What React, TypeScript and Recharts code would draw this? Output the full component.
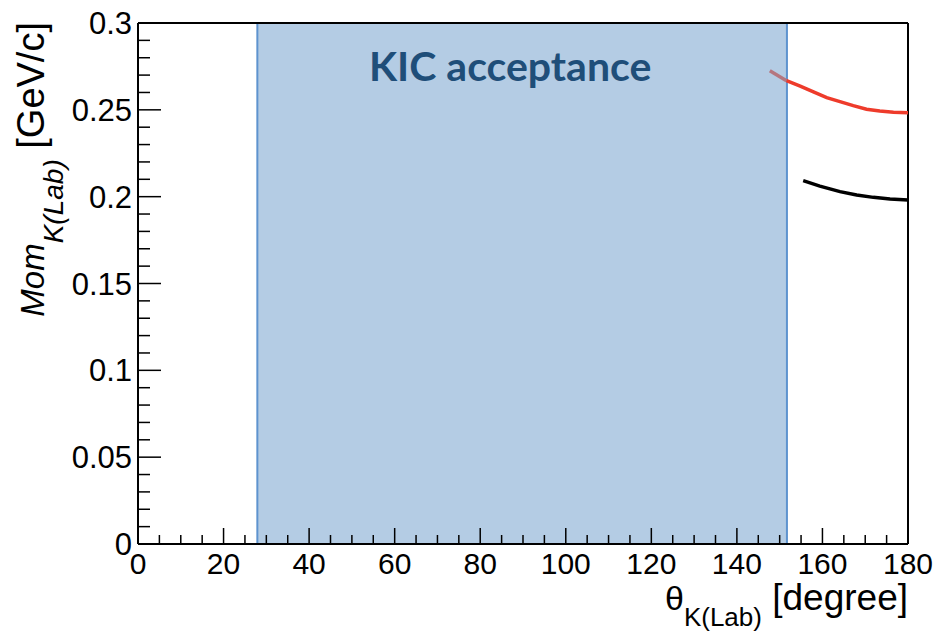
import { LineChart, Line, XAxis, YAxis, ReferenceArea, ReferenceLine, Label } from "recharts";

// theta (deg) tick positions, majors every 20
const xTicks = [
  0, 5, 10, 15, 20, 25, 30, 35, 40, 45, 50, 55, 60, 65, 70, 75, 80, 85, 90,
  95, 100, 105, 110, 115, 120, 125, 130, 135, 140, 145, 150, 155, 160, 165,
  170, 175, 180,
];
// momentum tick positions, majors every 0.05
const yTicks = [
  0, 0.01, 0.02, 0.03, 0.04, 0.05, 0.06, 0.07, 0.08, 0.09, 0.1, 0.11, 0.12,
  0.13, 0.14, 0.15, 0.16, 0.17, 0.18, 0.19, 0.2, 0.21, 0.22, 0.23, 0.24, 0.25,
  0.26, 0.27, 0.28, 0.29, 0.3,
];

// KIC acceptance window (deg)
const kicFrom = 27.9;
const kicTo = 151.7;

// red curve, the bit under the acceptance box
const redInAngle = [147.7, 151.6];
const redInMom = [0.2725, 0.2668];
// red curve outside the box
const redAngle = [151.6, 154.8, 157.9, 161.0, 164.1, 167.2, 170.3, 173.4, 176.6, 180];
const redMom = [0.2668, 0.2637, 0.2604, 0.257, 0.2547, 0.2524, 0.2503, 0.2493, 0.2486, 0.2483];
// black curve
const blackAngle = [155.5, 159.4, 164.1, 168.0, 171.9, 175.8, 180];
const blackMom = [0.2092, 0.2061, 0.2029, 0.201, 0.1996, 0.1987, 0.1981];

const zip = (a: number[], m: number[]) => a.map((angle, i) => ({ angle, mom: m[i] }));

const FONT = "'Liberation Sans', Arial, sans-serif";

const XTick = (props: any) => {
  const { x, y, payload } = props;
  const v = payload.value;
  const major = v % 20 === 0;
  return (
    <g>
      <line x1={x} y1={y} x2={x} y2={y - (major ? 16 : 9)} stroke="#000" strokeWidth={1.5} />
      {major && (
        <text x={x} y={y + 30} textAnchor="middle" fontSize={30} fontFamily={FONT} fill="#000">
          {v}
        </text>
      )}
    </g>
  );
};

const YTick = (props: any) => {
  const { x, y, payload } = props;
  const v = payload.value;
  const major = Math.round(v * 100) % 5 === 0;
  return (
    <g>
      <line x1={x} y1={y} x2={x + (major ? 23 : 12)} y2={y} stroke="#000" strokeWidth={1.5} />
      {major && (
        <text x={x - 6} y={y + 11} textAnchor="end" fontSize={31} fontFamily={FONT} fill="#000">
          {String(v)}
        </text>
      )}
    </g>
  );
};

const XTitle = (props: any) => {
  const vb = props.viewBox;
  return (
    <text x={vb.x + vb.width} y={vb.y + 66} textAnchor="end" fontFamily={FONT} fill="#000">
      <tspan fontSize={34}>θ</tspan>
      <tspan fontSize={26} dy={16}>K(Lab)</tspan>
      <tspan fontSize={37} dy={-16}> [degree]</tspan>
    </text>
  );
};

const YTitle = (props: any) => {
  const vb = props.viewBox;
  return (
    <text
      transform={`translate(${vb.x + 44}, ${vb.y - 1}) rotate(-90)`}
      textAnchor="end"
      fontFamily={FONT}
      fill="#000"
    >
      <tspan fontSize={33} fontStyle="italic">Mom</tspan>
      <tspan fontSize={28} fontStyle="italic" dy={19}>K(Lab)</tspan>
      <tspan fontSize={38} dy={-19}> [GeV/c]</tspan>
    </text>
  );
};

const KicTitle = (props: any) => {
  const vb = props.viewBox;
  return (
    <text
      x={vb.x + vb.width / 2 - 12}
      y={vb.y + 58}
      textAnchor="middle"
      fontFamily="Lato, 'Open Sans', sans-serif"
      fontWeight="bold"
      fontSize={41}
      fill="#1F4E79"
    >
      KIC acceptance
    </text>
  );
};

export default function App() {
  return (
    <div style={{ position: "absolute", left: 0, top: 0, background: "#fff" }}>
      <LineChart width={937} height={631} margin={{ top: 23, right: 29, bottom: 0, left: 0 }}>
        <XAxis
          dataKey="angle"
          type="number"
          domain={[0, 180]}
          ticks={xTicks}
          interval={0}
          tickSize={0}
          tickMargin={0}
          tickLine={false}
          tick={<XTick />}
          height={87}
          axisLine={{ stroke: "#000", strokeWidth: 2 }}
          allowDataOverflow
        >
          <Label content={<XTitle />} />
        </XAxis>
        <YAxis
          type="number"
          domain={[0, 0.3]}
          ticks={yTicks}
          interval={0}
          tickSize={0}
          tickMargin={0}
          tickLine={false}
          tick={<YTick />}
          width={138}
          axisLine={{ stroke: "#000", strokeWidth: 2 }}
          allowDataOverflow
        >
          <Label content={<YTitle />} />
        </YAxis>
        <ReferenceArea
          x1={kicFrom}
          x2={kicTo}
          y1={0}
          y2={0.3}
          fill="#B4CCE4"
          fillOpacity={1}
          stroke="#5E93CF"
          strokeWidth={2}
        >
          <Label content={<KicTitle />} />
        </ReferenceArea>
        <ReferenceLine y={0.3} stroke="#000" strokeWidth={2} />
        <ReferenceLine x={180} stroke="#000" strokeWidth={2} />
        <Line
          data={zip(redInAngle, redInMom)}
          dataKey="mom"
          stroke="#B5767F"
          strokeWidth={3.5}
          dot={false}
          isAnimationActive={false}
        />
        <Line
          data={zip(redAngle, redMom)}
          dataKey="mom"
          stroke="#EE3B2B"
          strokeWidth={3.5}
          dot={false}
          isAnimationActive={false}
        />
        <Line
          data={zip(blackAngle, blackMom)}
          dataKey="mom"
          stroke="#000"
          strokeWidth={3.5}
          dot={false}
          isAnimationActive={false}
        />
      </LineChart>
    </div>
  );
}
